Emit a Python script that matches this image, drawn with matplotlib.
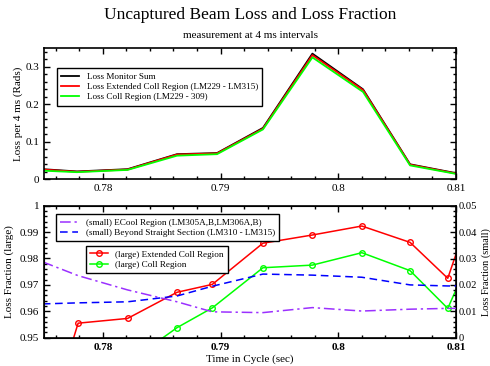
import numpy as np
import matplotlib
matplotlib.use("Agg")
import matplotlib.pyplot as plt
from matplotlib.ticker import MultipleLocator, FuncFormatter

plt.rcParams["font.family"] = ["Liberation Serif", "DejaVu Serif"]
plt.rcParams["font.size"] = 8

# --- Data: top panel (loss per 4 ms) ---
t_top     = [0.7749, 0.7778, 0.7821, 0.7863, 0.7897, 0.7936, 0.7978, 0.8021, 0.8061, 0.8099]
loss_sum  = [0.027, 0.021, 0.027, 0.067, 0.070, 0.137, 0.335, 0.240, 0.040, 0.017]
loss_ext  = [0.026, 0.020, 0.026, 0.066, 0.069, 0.135, 0.331, 0.238, 0.039, 0.016]
loss_coll = [0.023, 0.019, 0.025, 0.063, 0.067, 0.133, 0.325, 0.233, 0.037, 0.015]

# --- Data: bottom panel (loss fraction) ---
t_bot      = [0.7749, 0.7779, 0.7821, 0.7863, 0.7893, 0.7936, 0.7978, 0.8020, 0.8061, 0.8093, 0.8110]
frac_ext   = [0.912, 0.9555, 0.9573, 0.9672, 0.9702, 0.9858, 0.9889, 0.9923, 0.9861, 0.9725, 0.9947]
frac_coll  = [0.920, 0.930, 0.9404, 0.9538, 0.9613, 0.9765, 0.9775, 0.9822, 0.9754, 0.9611, 0.9782]
frac_ecool = [0.0287, 0.0235, 0.0181, 0.0136, 0.0098, 0.0095, 0.0114, 0.0101, 0.0108, 0.0111, 0.0111]
frac_beyond = [0.0128, 0.0132, 0.0136, 0.0158, 0.0195, 0.0241, 0.0237, 0.0229, 0.0200, 0.0196, 0.0196]

fmt_g = FuncFormatter(lambda v, p: "%g" % round(v, 4))

def style_axis(ax):
    ax.tick_params(which="both", direction="in", top=True, right=True, width=1.0)
    ax.tick_params(which="major", length=4.5)
    ax.tick_params(which="minor", length=2.2)
    for s in ax.spines.values():
        s.set_linewidth(1.2)

leg_kw = dict(loc="upper left", borderaxespad=0, fontsize=6.6, fancybox=False,
              edgecolor="black", framealpha=1, handlelength=2.0, handletextpad=0.8,
              labelspacing=0.2, borderpad=0.45)

fig = plt.figure(figsize=(4.9, 3.66), dpi=100)
W, H = 490.0, 366.0

# --- Top panel ---
ax1 = fig.add_axes([44 / W, 1 - 179.3 / H, 412 / W, 131.3 / H])
ax1.plot(t_top, loss_sum, color="black", lw=1.3, label="Loss Monitor Sum")
ax1.plot(t_top, loss_ext, color="red", lw=1.3, label="Loss Extended Coll Region (LM229 - LM315)")
ax1.plot(t_top, loss_coll, color="#00ff00", lw=1.3, label="Loss Coll Region (LM229 - 309)")
ax1.set_xlim(0.775, 0.81)
ax1.set_ylim(0, 0.35)
ax1.xaxis.set_major_locator(MultipleLocator(0.01))
ax1.xaxis.set_minor_locator(MultipleLocator(0.002))
ax1.yaxis.set_major_locator(MultipleLocator(0.1))
ax1.yaxis.set_minor_locator(MultipleLocator(0.02))
ax1.xaxis.set_major_formatter(fmt_g)
ax1.yaxis.set_major_formatter(fmt_g)
style_axis(ax1)
ax1.set_ylabel("Loss per 4 ms (Rads)")
ax1.yaxis.set_label_coords(-0.052, 0.5)
leg = ax1.legend(bbox_to_anchor=(0.031, 0.845), **leg_kw)
leg.get_frame().set_linewidth(1.0)

# --- Bottom panel ---
ax2 = fig.add_axes([44 / W, 1 - 337.7 / H, 412 / W, 132 / H])
l_ext, = ax2.plot(t_bot, frac_ext, color="red", lw=1.1, marker="o", ms=4,
                  mfc="none", mew=1.0, label="(large) Extended Coll Region")
l_coll, = ax2.plot(t_bot, frac_coll, color="#00ff00", lw=1.1, marker="o", ms=4,
                   mfc="none", mew=1.0, label="(large) Coll Region")
ax2.set_xlim(0.775, 0.81)
ax2.set_ylim(0.95, 1.0)
ax2.xaxis.set_major_locator(MultipleLocator(0.01))
ax2.xaxis.set_minor_locator(MultipleLocator(0.002))
ax2.yaxis.set_major_locator(MultipleLocator(0.01))
ax2.yaxis.set_minor_locator(MultipleLocator(0.002))
ax2.xaxis.set_major_formatter(fmt_g)
ax2.yaxis.set_major_formatter(fmt_g)
style_axis(ax2)
ax2.tick_params(right=False, which="both")
for lab in ax2.get_xticklabels():
    lab.set_fontweight("bold")
ax2.set_ylabel("Loss Fraction (large)")
ax2.yaxis.set_label_coords(-0.072, 0.5)
ax2.set_xlabel("Time in Cycle (sec)", labelpad=2)

ax3 = ax2.twinx()
l_ecool, = ax3.plot(t_bot, frac_ecool, color="#9b30ff", lw=1.1, ls=(0, (7, 2.5, 1.5, 2.5)),
                    label="(small) ECool Region (LM305A,B,LM306A,B)")
l_beyond, = ax3.plot(t_bot, frac_beyond, color="blue", lw=1.1, ls=(0, (5, 3)),
                     label="(small) Beyond Straight Section (LM310 - LM315)")
ax3.set_ylim(0, 0.05)
ax3.yaxis.set_major_locator(MultipleLocator(0.01))
ax3.yaxis.set_minor_locator(MultipleLocator(0.002))
ax3.yaxis.set_major_formatter(fmt_g)
ax3.tick_params(which="both", direction="in", width=1.0, pad=2, labelsize=7.6)
ax3.tick_params(which="major", length=4.5)
ax3.tick_params(which="minor", length=2.2)
ax3.set_ylabel("Loss Fraction (small)", fontsize=7.4)
ax3.yaxis.set_label_coords(1.062, 0.5)

leg_a = ax3.legend(handles=[l_ecool, l_beyond], bbox_to_anchor=(0.029, 0.935), **leg_kw)
leg_a.get_frame().set_linewidth(1.0)
ax3.add_artist(leg_a)
leg_b = ax3.legend(handles=[l_ext, l_coll], bbox_to_anchor=(0.101, 0.695), **leg_kw)
leg_b.get_frame().set_linewidth(1.0)

fig.text(250 / W, 1 - 15 / H, "Uncaptured Beam Loss and Loss Fraction",
         ha="center", va="center", fontsize=12.5)
fig.text(250 / W, 1 - 36 / H, "measurement at 4 ms intervals",
         ha="center", va="center", fontsize=8)

fig.savefig("out.png", dpi=100)
